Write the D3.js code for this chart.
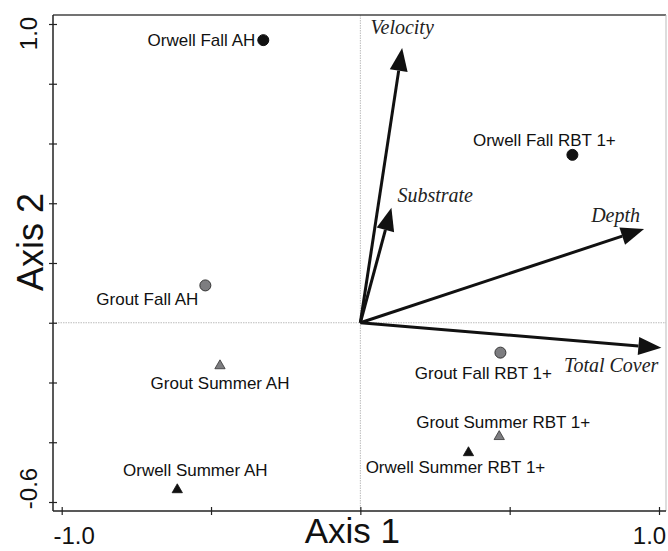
<!DOCTYPE html>
<html><head><meta charset="utf-8">
<script src="https://cdn.jsdelivr.net/npm/d3@7"></script>
<style>body{margin:0;background:#fff}svg{display:block}</style>
</head><body><svg id="c" width="668" height="551"></svg>
<script>
// ---- data ----
const siteNames = ["Orwell Fall AH","Orwell Fall RBT 1+","Grout Fall AH","Grout Summer AH","Orwell Summer AH","Grout Fall RBT 1+","Grout Summer RBT 1+","Orwell Summer RBT 1+"];
const siteAxis1 = [-0.325, 0.71, -0.519, -0.47, -0.613, 0.469, 0.465, 0.362];
const siteAxis2 = [0.946, 0.562, 0.125, -0.144, -0.559, -0.10, -0.381, -0.435];
const siteRiver = ["Orwell","Orwell","Grout","Grout","Orwell","Grout","Grout","Orwell"];
const siteSeason = ["Fall","Fall","Fall","Summer","Summer","Fall","Summer","Summer"];
const vectorNames = ["Velocity","Substrate","Depth","Total Cover"];
const vectorAxis1 = [0.14, 0.104, 0.95, 1.008];
const vectorAxis2 = [0.92, 0.385, 0.314, -0.084];
const xTicks = [-1.0,-0.5,0,0.5,1.0];
const yTicks = [-0.6,-0.4,-0.2,0,0.2,0.4,0.6,0.8,1.0];
const xTickLabels = {"-1":"-1.0","1":"1.0"};
const yTickLabels = {"-0.6":"-0.6","1":"1.0"};

(function(){
// ---- layout ----
const pL=53, pR=666, pT=15, pB=511;
const x = d3.scaleLinear().domain([-1,1]).range([61.7,659]);
const y = d3.scaleLinear().domain([-0.6,1]).range([502,24]);
const svg = d3.select("#c");
const sans = "Liberation Sans, Arial, sans-serif";

// label placement (pixel offsets from the point)
const labelPos = {
 "Orwell Fall AH":{dx:-8,dy:6,anchor:"end"},
 "Orwell Fall RBT 1+":{dx:-28,dy:-9,anchor:"middle"},
 "Grout Fall AH":{dx:-7,dy:20,anchor:"end"},
 "Grout Summer AH":{dx:0,dy:23,anchor:"middle"},
 "Orwell Summer AH":{dx:18,dy:-14,anchor:"middle"},
 "Grout Fall RBT 1+":{dx:-17,dy:26,anchor:"middle"},
 "Grout Summer RBT 1+":{dx:4,dy:-9,anchor:"middle"},
 "Orwell Summer RBT 1+":{dx:-13,dy:20,anchor:"middle"}
};
const vecLabelPos = {
 "Velocity":{dx:0,dy:-14,anchor:"middle"},
 "Substrate":{dx:6,dy:-6,anchor:"start"},
 "Depth":{dx:-4,dy:-7,anchor:"end"},
 "Total Cover":{dx:-3,dy:24,anchor:"end"}
};
const xLabelShift = {"-1":12,"1":-10};
const yLabelShift = {"1":9,"-0.6":-14};

// reference lines
svg.append("line").attr("x1",x(0)).attr("x2",x(0)).attr("y1",pT).attr("y2",pB)
  .attr("stroke","#bbb").attr("stroke-width",1).attr("stroke-dasharray","1.5,1");
svg.append("line").attr("x1",pL).attr("x2",pR).attr("y1",y(0)).attr("y2",y(0))
  .attr("stroke","#bbb").attr("stroke-width",1).attr("stroke-dasharray","1.5,1");

// frame
svg.append("line").attr("x1",pL).attr("x2",pR).attr("y1",pT).attr("y2",pT).attr("stroke","#444").attr("stroke-width",1.5);
svg.append("line").attr("x1",pR).attr("x2",pR).attr("y1",pT).attr("y2",pB).attr("stroke","#bbb").attr("stroke-width",1);

// axes
const xAxis = d3.axisBottom(x).tickValues(xTicks).tickSizeInner(5).tickSizeOuter(0).tickFormat(d=>xTickLabels[String(d)]||"");
const gx = svg.append("g").attr("transform",`translate(0,${pB})`).call(xAxis);
gx.select(".domain").attr("d",`M${pL},0H${pR}`).attr("stroke","#222").attr("stroke-width",1.5);
gx.selectAll(".tick line").attr("y1",-4).attr("y2",4).attr("stroke","#222").attr("stroke-width",1.2);
gx.selectAll(".tick text").attr("y",33).attr("dy",null).attr("x",d=>xLabelShift[String(d)]||0)
  .attr("font-family",sans).attr("font-size",24).attr("fill","#111");

const yAxis = d3.axisLeft(y).tickValues(yTicks).tickSizeInner(5).tickSizeOuter(0).tickFormat(d=>yTickLabels[String(+d.toFixed(1))]||"");
const gy = svg.append("g").attr("transform",`translate(${pL},0)`).call(yAxis);
gy.select(".domain").attr("d",`M0,${pT}V${pB}`).attr("stroke","#222").attr("stroke-width",1.5);
gy.selectAll(".tick line").attr("x1",-4).attr("x2",4).attr("stroke","#222").attr("stroke-width",1.2);
gy.selectAll(".tick text").attr("x",null).attr("dy",null)
  .attr("transform",d=>`translate(-16,${yLabelShift[String(+d.toFixed(1))]||0}) rotate(-90)`).attr("text-anchor","middle")
  .attr("font-family",sans).attr("font-size",24).attr("fill","#111");

// axis titles
svg.append("text").attr("x",x(0)-8).attr("y",543).attr("text-anchor","middle")
  .attr("font-family",sans).attr("font-size",35).attr("fill","#111").text("Axis 1");
svg.append("text").attr("transform",`translate(43,${y(0.27)}) rotate(-90)`).attr("text-anchor","middle")
  .attr("font-family",sans).attr("font-size",36).attr("fill","#111").text("Axis 2");

// vectors
const vectors = vectorNames.map((n,i)=>({name:n,vx:vectorAxis1[i],vy:vectorAxis2[i]}));
const vg = svg.append("g");
vectors.forEach(v=>{
  const x0=x(0), y0=y(0), x1=x(v.vx), y1=y(v.vy);
  const ang=Math.atan2(y1-y0,x1-x0);
  const L=23, W=9;
  const bx=x1-L*Math.cos(ang), by=y1-L*Math.sin(ang);
  vg.append("line").attr("x1",x0).attr("y1",y0).attr("x2",bx).attr("y2",by).attr("stroke","#111").attr("stroke-width",3);
  const px=-Math.sin(ang), py=Math.cos(ang);
  vg.append("path").attr("d",`M${x1},${y1}L${bx+W*px},${by+W*py}L${bx-W*px},${by-W*py}Z`).attr("fill","#111");
  const lp=vecLabelPos[v.name];
  vg.append("text").attr("x",x1+lp.dx).attr("y",y1+lp.dy).attr("text-anchor",lp.anchor)
    .attr("font-family","Liberation Serif, Times New Roman, serif").attr("font-style","italic")
    .attr("font-size",20).attr("fill","#222").text(v.name);
});

// sites
const sites = siteNames.map((n,i)=>({name:n,sx:siteAxis1[i],sy:siteAxis2[i],river:siteRiver[i],season:siteSeason[i]}));
const fillFor = r => r==="Orwell" ? "#111" : "#7d7d80";
const strokeFor = r => r==="Orwell" ? "#111" : "#333";
const sg = svg.append("g");
sites.forEach(s=>{
  const px=x(s.sx), py=y(s.sy);
  if(s.season==="Fall"){
    sg.append("circle").attr("cx",px).attr("cy",py).attr("r",5.5).attr("fill",fillFor(s.river)).attr("stroke",strokeFor(s.river)).attr("stroke-width",1);
  } else {
    sg.append("path").attr("d",d3.symbol(d3.symbolTriangle,46)()).attr("transform",`translate(${px},${py})`)
      .attr("fill",fillFor(s.river)).attr("stroke",strokeFor(s.river)).attr("stroke-width",0.8);
  }
  const lp=labelPos[s.name];
  sg.append("text").attr("x",px+lp.dx).attr("y",py+lp.dy).attr("text-anchor",lp.anchor)
    .attr("font-family",sans).attr("font-size",17).attr("fill","#111").text(s.name);
});
})();
</script></body></html>
